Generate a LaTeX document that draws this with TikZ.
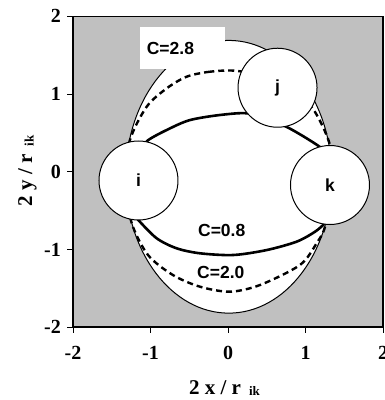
\documentclass[tikz,border=0pt]{standalone}
\usepackage{fontspec}
\setmainfont{Liberation Serif}
\newfontfamily\labelfont{Liberation Sans}
\usepackage{tikz}
\definecolor{plotgray}{RGB}{192,192,192}

\begin{document}
\begin{tikzpicture}[x=77.5pt, y=77.7pt,
    particle/.style={circle, draw, fill=white, line width=1pt, minimum size=79pt, inner sep=0pt,
      font=\labelfont\bfseries\fontsize{17.5}{18}\selectfont},
    clabel/.style={font=\labelfont\bfseries\fontsize{17.5}{18}\selectfont, inner sep=0pt},
    cbox/.style={clabel, fill=white, anchor=north west, minimum height=42pt,
      text width=71.6pt, inner xsep=6.7pt, align=left},
    ticklabel/.style={font=\bfseries\fontsize{20}{20}\selectfont, inner sep=0pt},
    axistitle/.style={font=\bfseries\fontsize{21}{21}\selectfont, inner sep=0pt},
    outer/.style={draw, fill=white, line width=1pt},
    cdash/.style={line width=2.4pt, dash pattern=on 6pt off 4pt},
    cthick/.style={line width=2.6pt}]
  \useasboundingbox (-2.942,-2.938) rectangle (2.013,2.210);
  \fill[plotgray] (-2,-2) rectangle (2,2);

  \path[outer] (0.01,-0.065) ellipse [x radius=1.33, y radius=1.755];
  \draw[cdash] plot[smooth cycle] coordinates {(0.129,1.296) (-0.232,1.287) (-0.533,1.223)
    (-0.791,1.073) (-1.049,0.837) (-1.265,0.408) (-1.33,-0.12) (-1.243,-0.66) (-1.032,-1.072)
    (-0.71,-1.33) (-0.361,-1.48) (0.026,-1.544) (0.413,-1.458) (0.929,-1.2) (1.145,-0.918)
    (1.252,-0.708) (1.36,-0.17) (1.316,0.344) (1.08,0.833) (0.7,1.17)};
  \draw[cthick] plot[smooth] coordinates {(-1.12,0.3) (-1.028,0.408) (-0.791,0.537)
    (-0.49,0.665) (-0.06,0.735) (0.3,0.745) (0.735,0.588) (1.187,0.318) (1.26,0.2)};
  \draw[cthick] plot[smooth] coordinates {(-1.3,-0.45) (-1.157,-0.622) (-0.92,-0.857)
    (-0.662,-0.986) (-0.361,-1.05) (0.068,-1.072) (0.5,-1.008) (0.886,-0.9) (1.123,-0.772)
    (1.252,-0.662) (1.35,-0.55)};

  \node[particle] (i) at (-1.155,-0.113) {i};
  \node[particle] (j) at (0.639,1.081) {j};
  \node[particle] (k) at (1.316,-0.171) {k};

  \node[cbox] (c28) at (-1.136,1.862) {C=2.8};
  \node[clabel] (c08) at (-0.081,-0.761) {C=0.8};
  \node[clabel] (c20) at (-0.093,-1.293) {C=2.0};

  \draw[line width=1.2pt] (-2,-2) rectangle (2,2);
  \draw[line width=2.6pt] (-2,-2) -- (2,-2) -- (2,2);
  \foreach \t in {-2,...,2} {
    \draw[line width=1pt] (\t,-2) -- ++(0,-6pt);
    \draw[line width=1pt] (-2,\t) -- ++(-6pt,0);
    \node[ticklabel] (xt\t) at (\t,-2.333) {\t};
    \node[ticklabel, anchor=east] (yt\t) at (-2.155,\t) {\t};
  }
  \node[axistitle, anchor=base] (xtitle) at (-0.045,-2.861)
    {2 x / r\hspace{8pt}\raisebox{-1.5pt}{\fontsize{13}{13}\selectfont ik}};
  \node[axistitle, rotate=90, anchor=base] (ytitle) at (-2.529,0.01)
    {2 y / r\hspace{8pt}\raisebox{-1.5pt}{\fontsize{13}{13}\selectfont ik}};
\end{tikzpicture}
\end{document}
